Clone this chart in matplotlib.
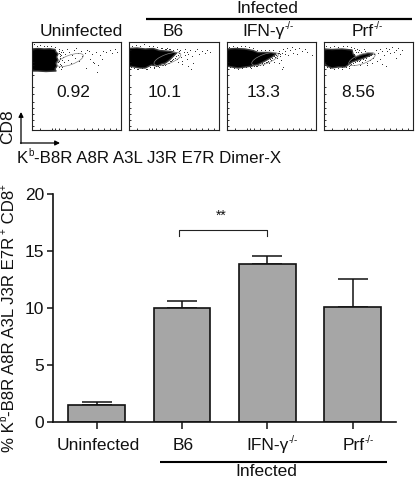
import matplotlib
matplotlib.use("Agg")
import math
import matplotlib.pyplot as plt
from matplotlib.patches import Ellipse, Polygon

plt.rcParams['font.family'] = ['Liberation Sans', 'DejaVu Sans']

W, H = 415, 478
DARK = '#111111'
SUP = '\u0001'  # marks a superscript run in the label lists below

# ---- bar chart data
categories = [['Uninfected'], ['B6'], ['IFN-γ', SUP + '-/-'], ['Prf', SUP + '-/-']]
bar_values = [1.5, 10.0, 13.8, 10.1]
bar_errors = [0.25, 0.6, 0.75, 2.4]
y_ticks = [0, 5, 10, 15, 20]

# ---- flow panel data (panel scale 0-89, y downward)
panel_titles = [['Uninfected'], ['B6'], ['IFN-γ', SUP + '-/-'], ['Prf', SUP + '-/-']]
panel_numbers = ['0.92', '10.1', '13.3', '8.56']
x_label = ['K', SUP + 'b', '-B8R A8R A3L J3R E7R Dimer-X']
y_label = ['% K', SUP + 'b', '-B8R A8R A3L J3R E7R', SUP + '+', ' CD8', SUP + '+']

blob_1 = [(0, 7), (6, 6.5), (12, 7), (18, 6.8), (23, 7.5), (24, 10), (26, 12), (24.5, 15), (26, 18),
          (24, 21), (25, 24), (23, 27), (24, 29), (14, 29.5), (6, 29), (0, 29)]
blob_2 = [(0, 6.5), (8, 6), (16, 7), (24, 6.5), (30, 8.5), (36, 9), (42, 9.5), (47, 11), (44, 14), (40, 18),
          (36, 21), (32, 22), (28, 24), (22, 23), (16, 26), (11, 26), (5, 25), (0, 24)]
blob_3 = [(0, 7), (8, 6.5), (18, 7), (26, 8.5), (31, 10.5), (38, 10.5), (44, 10.5), (49, 12), (45, 15),
          (38, 19), (32, 22), (25, 24), (18, 25), (11, 26), (5, 25), (0, 24)]
blob_4 = [(0, 7), (8, 7.5), (18, 7), (28, 8), (29, 12), (32, 15), (37, 13), (44, 11.5), (49, 12), (45, 14),
          (40, 16), (34, 18), (28, 20), (24, 23), (21, 25), (14, 25), (8, 26), (3, 24), (0, 21)]
blobs = [blob_1, blob_2, blob_3, blob_4]

dots_1_x = [2, 5, 8, 12, 15, 19, 23, 27, 28, 29, 30, 31, 32, 33, 35, 36, 37, 39, 40, 42, 43, 44, 46, 47, 49, 50,
            53, 55, 57, 58, 60, 62, 64, 66, 68, 71, 74, 78, 80, 83, 85, 54, 61, 65, 70, 27, 28, 30, 26, 29,
            27, 28, 29, 27, 30, 28, 27, 29, 31, 28]
dots_1_y = [3, 5, 4, 5, 5, 5, 6, 12, 18, 24, 9, 16, 21, 13, 8, 19, 11, 22, 14, 9, 17, 7, 12, 20, 10, 15,
            12, 9, 10, 18, 13, 22, 11, 24, 14, 10, 11, 9, 12, 8, 11, 27, 21, 31, 18, 10, 15, 26, 21, 28,
            8, 13, 14, 20, 19, 23, 26, 11, 11, 17]
dots_2_x = [3, 7, 11, 15, 20, 24, 28, 33, 37, 41, 44, 47, 49, 50, 51, 52, 54, 55, 57, 58, 60, 62, 63, 65, 67, 69,
            72, 75, 77, 80, 44, 48, 52, 55, 58, 36, 40, 30, 25, 18, 8, 34, 42, 61, 57,
            2, 5, 9, 13, 17, 21, 25, 29, 33, 37, 41, 45, 46, 43, 39, 35, 31, 27, 32, 36, 49, 48, 47, 38, 40]
dots_2_y = [5, 4, 5, 3, 5, 5, 6, 7, 8, 8, 9, 8, 12, 9, 16, 20, 11, 8, 18, 13, 9, 15, 22, 10, 8, 13,
            10, 12, 9, 11, 18, 21, 23, 14, 25, 24, 22, 26, 27, 28, 28, 24, 20, 28, 11,
            26, 27, 28, 27, 28, 26, 26, 25, 24, 23, 20, 17, 15, 19, 22, 23, 24, 25, 7, 8, 10, 14, 18, 7, 8]
dots_3_x = [2, 6, 10, 14, 18, 22, 26, 30, 34, 38, 40, 44, 48, 50, 52, 53, 55, 56, 58, 60, 61, 63, 65, 66, 68, 70, 72,
            75, 78, 80, 85, 54, 52, 47, 42, 36, 30, 24, 56, 55, 58,
            3, 7, 11, 15, 19, 23, 27, 31, 35, 39, 43, 47, 49, 51, 50, 45, 41, 37, 33, 29, 53, 52, 46, 42]
dots_3_y = [6, 5, 6, 5, 5, 6, 7, 9, 9, 9, 21, 19, 16, 17, 10, 15, 12, 8, 10, 7, 14, 9, 6, 12, 8, 13, 7,
            10, 8, 11, 14, 19, 22, 21, 22, 24, 25, 27, 26, 28, 13,
            26, 27, 28, 27, 26, 26, 25, 24, 22, 21, 18, 15, 14, 12, 15, 17, 20, 22, 24, 25, 13, 12, 9, 9]
dots_4_x = [2, 6, 10, 14, 19, 23, 27, 30, 33, 31, 35, 38, 41, 43, 46, 49, 50, 52, 54, 56, 58, 60, 62, 63, 65, 66, 68, 70,
            72, 74, 76, 78, 53, 56, 48, 43, 36, 30, 25, 18, 58, 72, 62, 35, 32, 40,
            3, 6, 10, 14, 18, 22, 26, 29, 31, 33, 36, 39, 42, 45, 47, 50, 31, 34, 37, 41, 30, 32, 27, 25]
dots_4_y = [5, 6, 5, 6, 5, 5, 6, 7, 8, 17, 20, 21, 19, 22, 19, 17, 13, 9, 12, 8, 10, 14, 7, 10, 8, 12, 6, 11,
            9, 7, 13, 9, 20, 18, 22, 24, 24, 24, 27, 28, 23, 17, 25, 9, 11, 8,
            26, 27, 28, 27, 26, 26, 24, 22, 21, 20, 19, 18, 17, 15, 14, 13, 9, 11, 11, 10, 13, 11, 23, 25]
dots_x = [dots_1_x, dots_2_x, dots_3_x, dots_4_x]
dots_y = [dots_1_y, dots_2_y, dots_3_y, dots_4_y]

gate_center = [(38, 18), (38, 17), (38, 17), (38, 17)]
panel_ticks = [8, 20, 23, 27, 33, 45, 52, 60, 66, 72, 78, 84]

fig = plt.figure(figsize=(W / 100, H / 100), dpi=100)


def box(l, t, r, b):
    return [l / W, 1 - b / H, (r - l) / W, (b - t) / H]


# ---- flow panels
panel_lr = [(32, 121), (129, 219), (227, 316), (324, 413)]
for i, (l, r) in enumerate(panel_lr):
    ax = fig.add_axes(box(l, 42, r, 130))
    ax.set_xlim(0, 89)
    ax.set_ylim(88, 0)
    ax.add_patch(Polygon(blobs[i], closed=True, fc='black', ec='#3a3a3a', lw=1.0, joinstyle='round'))
    ax.plot(dots_x[i], dots_y[i], ',', color='#333333', zorder=3)
    ax.add_patch(Ellipse(gate_center[i], 28, 9.5, angle=-20, fc='none', ec='#808080', lw=0.5, zorder=4))
    ax.set_xticks(panel_ticks)
    ax.set_yticks(panel_ticks)
    ax.tick_params(direction='in', length=1.5, width=0.6, labelleft=False, labelbottom=False, color=DARK)
    for s in ax.spines.values():
        s.set_linewidth(0.8)
        s.set_color('#222222')

# ---- bar chart
bx = fig.add_axes(box(53, 193.7, 396, 421.7))
pos = list(range(len(categories)))
bx.bar(pos, bar_values, width=0.665, color='#a6a6a6', edgecolor=DARK, linewidth=1.2, zorder=2)
bx.errorbar(pos, bar_values, yerr=[[0] * 4, bar_errors], fmt='none', ecolor=DARK, elinewidth=1.1,
            capsize=11, capthick=1.1, zorder=1)
bx.set_xlim(-0.512, 3.509)
bx.set_ylim(0, 20)
bx.set_yticks(y_ticks)
bx.set_xticks(pos)
bx.set_xticklabels([])
bx.tick_params(axis='y', length=4.5, width=1.1, labelsize=12.5, pad=2, color=DARK, labelcolor=DARK)
bx.tick_params(axis='x', length=5, width=1.1, color=DARK)
for s in ('top', 'right'):
    bx.spines[s].set_visible(False)
for s in ('left', 'bottom'):
    bx.spines[s].set_linewidth(1.2)
    bx.spines[s].set_color(DARK)
bx.plot([0.96, 0.96, 2.0, 2.0], [16.3, 16.8, 16.8, 16.3], color='#222222', lw=0.8)

# ---- overlay in pixel coordinates for text and annotation lines
ov = fig.add_axes([0, 0, 1, 1], facecolor='none')
ov.set_xlim(0, W)
ov.set_ylim(H, 0)
ov.axis('off')
renderer = fig.canvas.get_renderer()


def txt(x, y, s, size=12.5, **kw):
    return ov.text(x, y, s, fontsize=size, ha=kw.pop('ha', 'center'), va=kw.pop('va', 'center'), color=DARK, **kw)


def run_width(s, size):
    t = ov.text(0, 0, s.replace(' ', 't'), fontsize=size)
    w = t.get_window_extent(renderer).width
    t.remove()
    return w


def runs(x, y, parts, size=12.5, sup_size=7, rotation=0, anchor='center'):
    """Lay out text runs with small raised superscripts along the baseline."""
    widths = [run_width(p.lstrip(SUP), sup_size if p.startswith(SUP) else size) for p in parts]
    total = sum(widths)
    a = math.radians(rotation)
    ux, uy = math.cos(a), -math.sin(a)      # along the text, in y-down pixels
    nx, ny = -math.sin(a), -math.cos(a)     # towards text top
    d = -total / 2 if anchor == 'center' else 0
    base = size * 100 / 72 * 0.36           # baseline below the given centre
    for p, w in zip(parts, widths):
        sup = p.startswith(SUP)
        lift = base * -1 + (size * 100 / 72 * 0.42 if sup else 0)
        px = x + ux * d + nx * lift
        py = y + uy * d + ny * lift
        ov.text(px, py, p.lstrip(SUP), fontsize=sup_size if sup else size, color=DARK, rotation=rotation,
                rotation_mode='anchor', ha='left', va='baseline')
        d += w


for x, s in zip([81, 173, 268, 367], panel_titles):
    runs(x, 30, s)
for x, s in zip([73, 165, 264, 358], panel_numbers):
    txt(x, 92, s)
txt(267, 8, 'Infected')
ov.plot([146, 412], [18.5, 18.5], color='black', lw=1.6, solid_capstyle='butt')
for x, s in zip([98, 183, 272, 358], categories):
    runs(x, 444, s)
ov.plot([160, 387], [462, 462], color='black', lw=1.5, solid_capstyle='butt')
txt(266, 472, 'Infected')
txt(221.7, 216, '**', size=10)

txt(8, 127, 'CD8', rotation=90)
runs(17, 157, x_label, size=12.2, anchor='left')
runs(7.5, 318, y_label, size=12.1, rotation=90)
ov.annotate('', xy=(21, 112), xytext=(21, 143.5),
            arrowprops=dict(arrowstyle='-|>', lw=0.9, color='black', mutation_scale=7, shrinkA=0, shrinkB=0))
ov.annotate('', xy=(60, 143), xytext=(20.5, 143),
            arrowprops=dict(arrowstyle='-|>', lw=0.9, color='black', mutation_scale=7, shrinkA=0, shrinkB=0))

fig.savefig('out.png', dpi=100)
